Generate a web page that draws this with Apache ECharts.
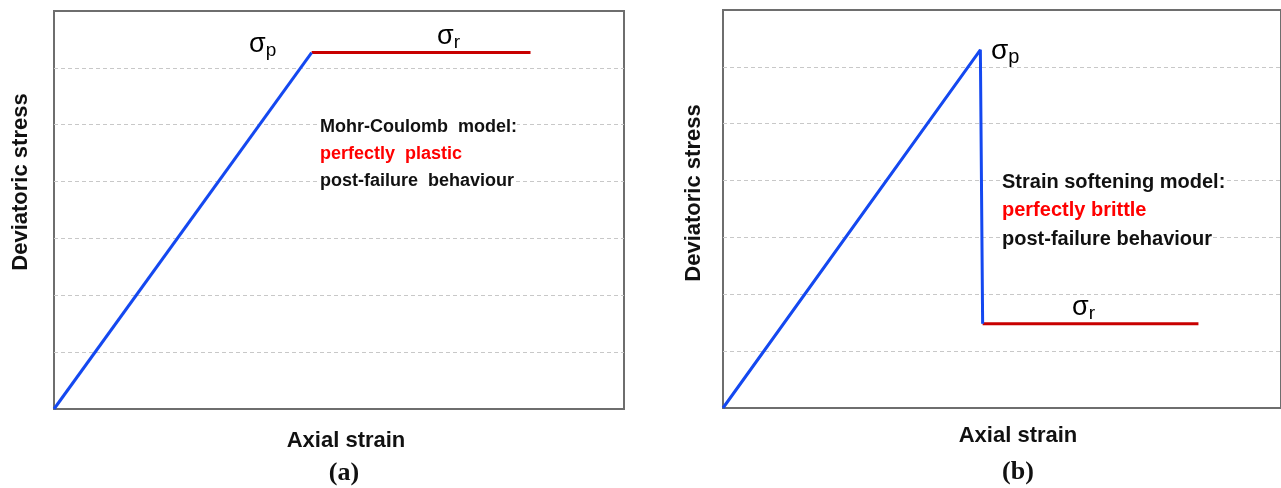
<!DOCTYPE html>
<html>
<head>
<meta charset="utf-8">
<script src="https://cdn.jsdelivr.net/npm/echarts@6/dist/echarts.min.js"></script>
<style>html,body{margin:0;padding:0;background:#fff}#c{width:1281px;height:488px}</style>
</head>
<body>
<div id="c"></div>
<script>
// Panel (a): Mohr-Coulomb perfectly plastic
const elasticA = [[0, 0], [4.52, 6.27]];
const residualA = [[4.52, 6.27], [8.36, 6.27]];
// Panel (b): strain softening perfectly brittle
const elasticB = [[0, 0], [4.52, 6.30], [4.56, 1.48]];
const residualB = [[4.56, 1.48], [8.35, 1.48]];
const xRangeA = [0, 10];
const xRangeB = [0, 9.8];   // panel (b) is cut off at the right edge of the picture
const yRange = [0, 7];
const yTitle = 'Deviatoric stress';
const xTitle = 'Axial strain';
const panelTags = ['(a)', '(b)'];
const noteA = ['Mohr-Coulomb  model:', 'perfectly  plastic', 'post-failure  behaviour'];
const noteB = ['Strain softening model:', 'perfectly brittle', 'post-failure behaviour'];

const BLUE = '#1448f0', RED = '#c80000';
const chart = echarts.init(document.getElementById('c'), null, {renderer: 'canvas'});

function xAx(i, r) {
  return {gridIndex: i, type: 'value', min: r[0], max: r[1],
    axisLine: {show: false}, axisTick: {show: false}, axisLabel: {show: false}, splitLine: {show: false}};
}
function yAx(i) {
  return {gridIndex: i, type: 'value', min: yRange[0], max: yRange[1], interval: 1,
    axisLine: {show: false}, axisTick: {show: false}, axisLabel: {show: false},
    splitLine: {show: true, showMinLine: false, showMaxLine: false,
      lineStyle: {color: '#c8c8c8', type: [4, 3], width: 1}}};
}
function line(i, data, color) {
  return {type: 'line', xAxisIndex: i, yAxisIndex: i, data: data, symbol: 'none', silent: true,
    lineStyle: {color: color, width: 3}, animation: false};
}
function sigma(x, y, sub, size) {
  return {type: 'text', left: x, top: y, z: 10, style: {text: '{s|σ}{sub|' + sub + '}', rich: {
    s: {fontFamily: 'Liberation Sans', fontSize: size, color: '#000'},
    sub: {fontFamily: 'Liberation Sans', fontSize: Math.round(size * 0.7), color: '#000', padding: [Math.round(size * 0.45), 0, 0, 0]}
  }}};
}
function note(x, y, lines, size, gap) {
  return lines.map((t, k) => ({type: 'text', left: x, top: y + k * gap, z: 10,
    style: {text: t, fontFamily: 'Liberation Sans', fontWeight: 'bold', fontSize: size,
      fill: k === 1 ? '#ff0000' : '#111', backgroundColor: '#fff'}}));
}
function txt(cx, cy, t, font, rot) {
  return {type: 'text', x: cx, y: cy, rotation: rot || 0, z: 10,
    style: {text: t, font: font, align: 'center', verticalAlign: 'middle', fill: '#111'}};
}

const graphics = [
  sigma(249, 31, 'p', 27), sigma(437, 23, 'r', 27),
  sigma(991, 37, 'p', 28), sigma(1072, 294, 'r', 27),
  ...note(320, 118, noteA, 18, 27), ...note(1002, 172, noteB, 20, 28.5),
  txt(346, 441, xTitle, 'bold 22px "Liberation Sans"'),
  txt(1018, 436, xTitle, 'bold 22px "Liberation Sans"'),
  txt(344, 473, panelTags[0], 'bold 26px "Liberation Serif"'),
  txt(1018, 472, panelTags[1], 'bold 26px "Liberation Serif"'),
  txt(21, 182, yTitle, 'bold 22px "Liberation Sans"', Math.PI / 2),
  txt(694, 193, yTitle, 'bold 22px "Liberation Sans"', Math.PI / 2)
];

chart.setOption({
  animation: false,
  backgroundColor: '#fff',
  grid: [
    {left: 54, top: 11, width: 570, height: 398, show: true, borderColor: '#6e6e6e', borderWidth: 2, backgroundColor: 'transparent'},
    {left: 723, top: 10, width: 558, height: 398, show: true, borderColor: '#6e6e6e', borderWidth: 2, backgroundColor: 'transparent'}
  ],
  xAxis: [xAx(0, xRangeA), xAx(1, xRangeB)],
  yAxis: [yAx(0), yAx(1)],
  series: [
    line(0, residualA, RED), line(0, elasticA, BLUE),
    line(1, residualB, RED), line(1, elasticB, BLUE)
  ],
  graphic: graphics
});
</script>
</body>
</html>
